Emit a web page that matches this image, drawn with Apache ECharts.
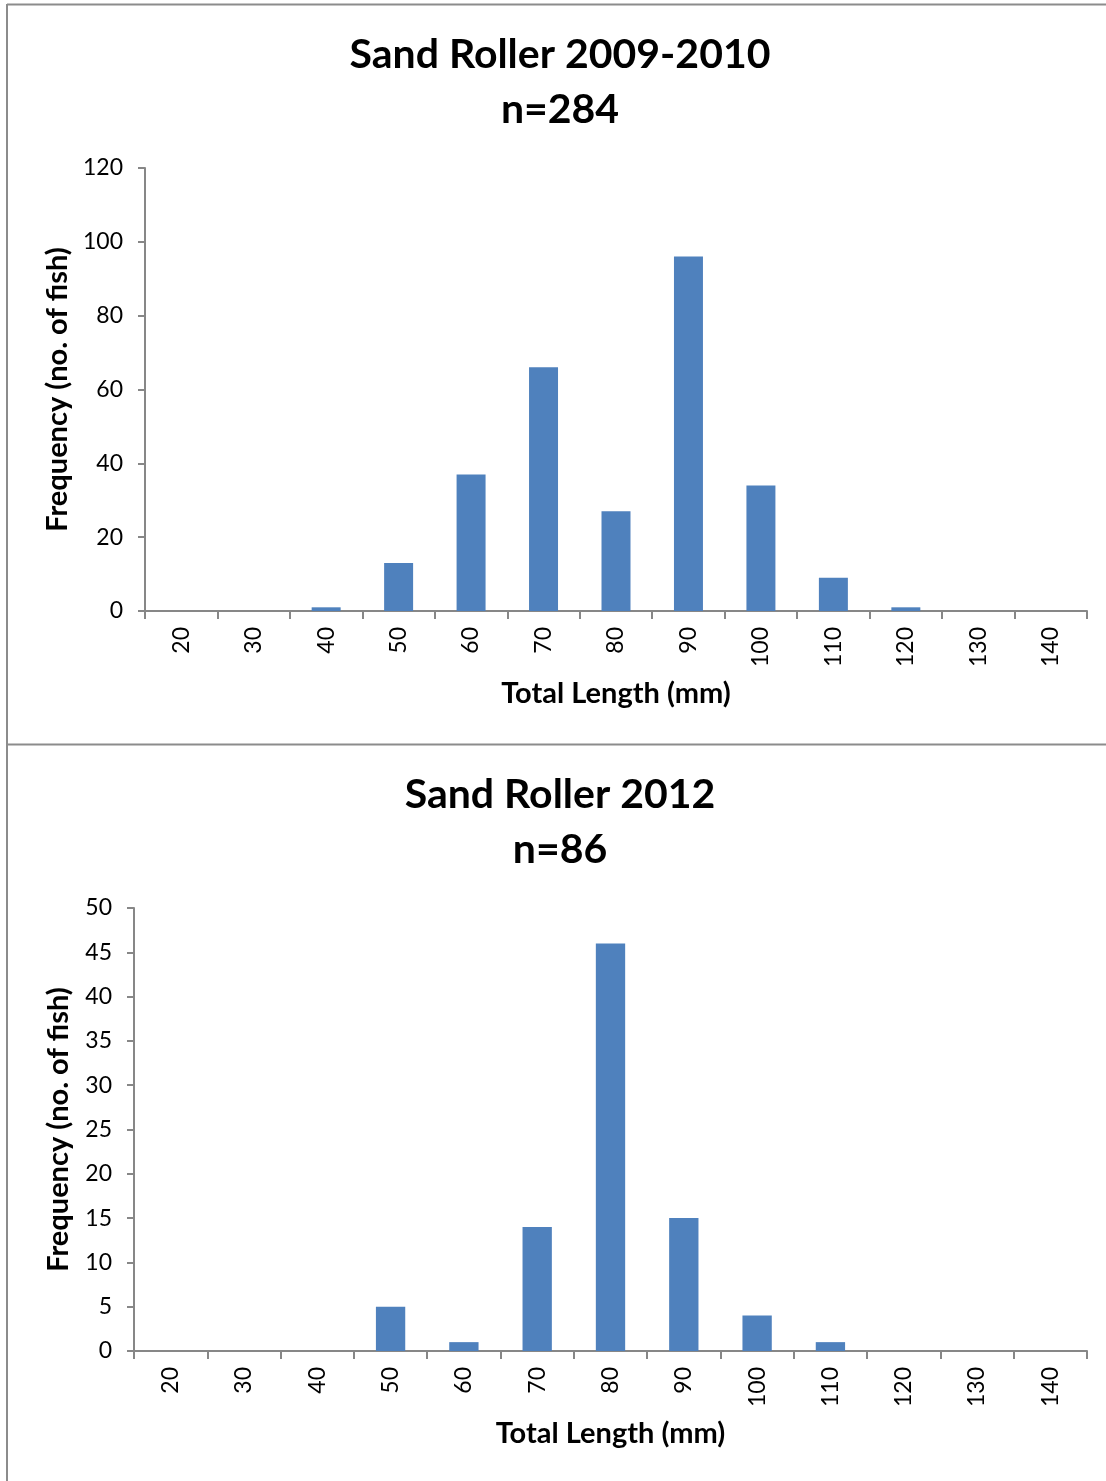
<!DOCTYPE html>
<html>
<head>
<meta charset="utf-8">
<script src="https://cdn.jsdelivr.net/npm/echarts@6/dist/echarts.min.js"></script>
<style>
html,body{margin:0;padding:0;background:#fff;}
#chart{width:1106px;height:1481px;}
</style>
</head>
<body>
<div id="chart"></div>
<script>
const categories = ['20','30','40','50','60','70','80','90','100','110','120','130','140'];
const values2009 = [0,0,1,13,37,66,27,96,34,9,1,0,0];
const values2012 = [0,0,0,5,1,14,46,15,4,1,0,0,0];
const title1 = 'Sand Roller 2009-2010\nn=284';
const title2 = 'Sand Roller 2012\nn=86';
const xName = 'Total Length (mm)';
const yName = 'Frequency (no. of fish)';

const FONT = 'Lato';
const axisColor = '#878787';
const barColor = '#4F81BD';

function xAxis(gridIndex){
  return {
    type:'category', gridIndex, data:categories,
    boundaryGap:true,
    axisLine:{lineStyle:{color:axisColor,width:2}},
    axisTick:{show:true,alignWithLabel:false,length:8,lineStyle:{color:axisColor,width:2}},
    axisLabel:{rotate:90,margin:16,color:'#000',fontFamily:FONT,fontSize:23},
    name:xName, nameLocation:'middle', nameGap:68,
    nameTextStyle:{color:'#000',fontFamily:FONT,fontSize:29,fontWeight:'bold'}
  };
}
function yAxis(gridIndex,max,interval,gap){
  return {
    type:'value', gridIndex, min:0, max, interval,
    axisLine:{show:true,lineStyle:{color:axisColor,width:2}},
    axisTick:{show:true,length:7,lineStyle:{color:axisColor,width:2}},
    splitLine:{show:false},
    axisLabel:{margin:22,color:'#000',fontFamily:FONT,fontSize:23},
    name:yName, nameLocation:'middle', nameGap:gap,
    nameTextStyle:{color:'#000',fontFamily:FONT,fontSize:29,fontWeight:'bold'}
  };
}
const titleStyle = {color:'#000',fontFamily:FONT,fontSize:41,fontWeight:'bold',lineHeight:55};

const chart = echarts.init(document.getElementById('chart'));
chart.setOption({
  animation:false,
  backgroundColor:'#fff',
  title:[
    {text:title1,left:560,top:27,textAlign:'center',textStyle:titleStyle,padding:0},
    {text:title2,left:560,top:767,textAlign:'center',textStyle:titleStyle,padding:0}
  ],
  grid:[
    {left:145,top:168,right:19,height:443},
    {left:134,top:908,right:19,height:443}
  ],
  xAxis:[xAxis(0),xAxis(1)],
  yAxis:[yAxis(0,120,20,72),yAxis(1,50,5,61)],
  series:[
    {type:'bar',xAxisIndex:0,yAxisIndex:0,data:values2009,barWidth:'40%',itemStyle:{color:barColor}},
    {type:'bar',xAxisIndex:1,yAxisIndex:1,data:values2012,barWidth:'40%',itemStyle:{color:barColor}}
  ],
  graphic:[
    {type:'line',shape:{x1:7,y1:4.5,x2:1106,y2:4.5},style:{stroke:'#8c8c8c',lineWidth:2}},
    {type:'line',shape:{x1:7,y1:4,x2:7,y2:1481},style:{stroke:'#8c8c8c',lineWidth:2}},
    {type:'line',shape:{x1:7,y1:744.5,x2:1106,y2:744.5},style:{stroke:'#8c8c8c',lineWidth:2}}
  ]
});
</script>
</body>
</html>
